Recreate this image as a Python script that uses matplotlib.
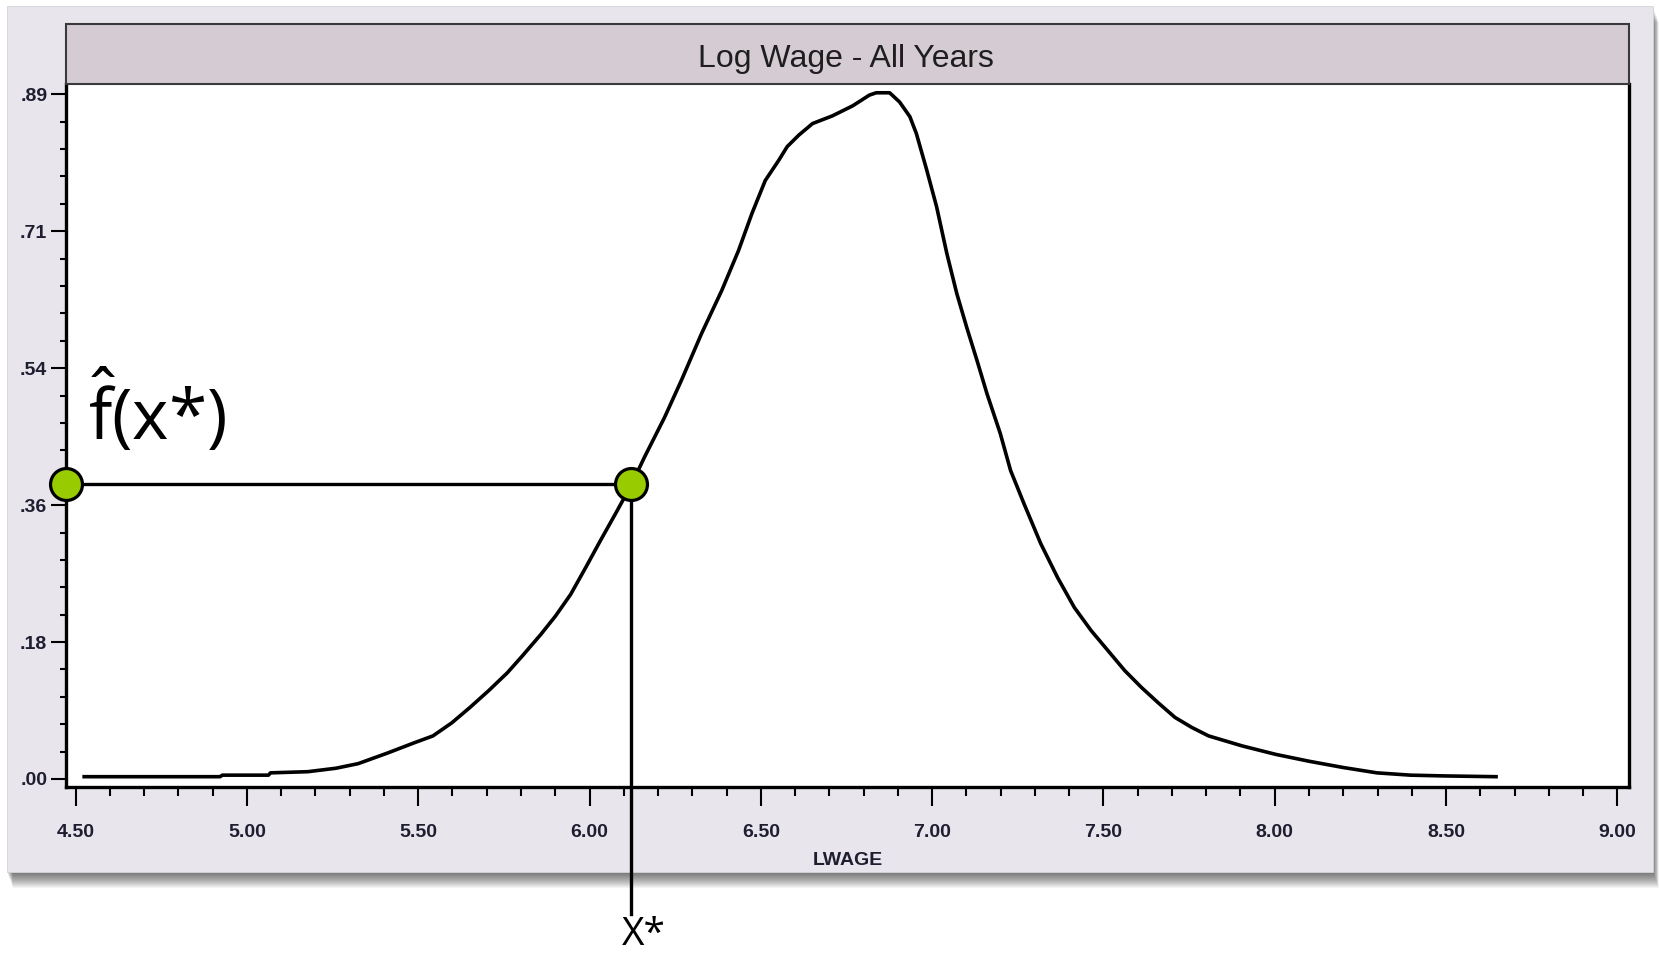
import matplotlib
matplotlib.use('Agg')
import matplotlib.pyplot as plt
from matplotlib.patches import Rectangle
from matplotlib.ticker import MultipleLocator, AutoMinorLocator

plt.rcParams['font.family'] = ['Liberation Sans', 'DejaVu Sans']
plt.rcParams['mathtext.fontset'] = 'custom'
plt.rcParams['mathtext.rm'] = 'Open Sans'
plt.rcParams['mathtext.it'] = 'Open Sans'

# kernel density of log wage
lwage = [4.525, 4.922, 4.928, 5.063, 5.069, 5.178, 5.26, 5.325, 5.412, 5.488,
         5.543, 5.598, 5.651, 5.706, 5.76, 5.804, 5.858, 5.901, 5.945, 5.989,
         6.032, 6.076, 6.097, 6.124, 6.160, 6.219, 6.268, 6.327, 6.386, 6.435,
         6.474, 6.513, 6.552, 6.577, 6.611, 6.651, 6.709, 6.768, 6.817, 6.837,
         6.876, 6.905, 6.935, 6.954, 6.984, 7.013, 7.043, 7.072, 7.101, 7.131,
         7.160, 7.199, 7.229, 7.249, 7.268, 7.317, 7.366, 7.415, 7.464, 7.513,
         7.562, 7.611, 7.660, 7.709, 7.758, 7.807, 7.905, 8.003, 8.101, 8.199,
         8.298, 8.396, 8.494, 8.646]
density = [0.003, 0.003, 0.005, 0.005, 0.008, 0.0095, 0.014, 0.020, 0.034, 0.047,
           0.056, 0.073, 0.093, 0.115, 0.138, 0.160, 0.188, 0.212, 0.240, 0.275,
           0.310, 0.345, 0.362, 0.384, 0.418, 0.470, 0.518, 0.579, 0.635, 0.687,
           0.735, 0.778, 0.804, 0.822, 0.837, 0.852, 0.862, 0.875, 0.889, 0.892,
           0.892, 0.880, 0.861, 0.839, 0.792, 0.744, 0.683, 0.631, 0.587, 0.544,
           0.501, 0.449, 0.401, 0.379, 0.358, 0.306, 0.262, 0.223, 0.193, 0.167,
           0.141, 0.119, 0.099, 0.080, 0.067, 0.056, 0.043, 0.032, 0.023, 0.015,
           0.008, 0.005, 0.004, 0.003]

x_star = 6.122
f_star = 0.384

x_ticks = [4.5, 5.0, 5.5, 6.0, 6.5, 7.0, 7.5, 8.0, 8.5, 9.0]
x_labels = ['4.50', '5.00', '5.50', '6.00', '6.50', '7.00', '7.50', '8.00', '8.50', '9.00']
y_ticks = [0.0, 0.178, 0.356, 0.534, 0.712, 0.89]
y_labels = ['.00', '.18', '.36', '.54', '.71', '.89']

W, H = 1659, 955
fig = plt.figure(figsize=(W / 100, H / 100), dpi=100)
fig.patch.set_facecolor('white')


def fx(p):
    return p / W


def fy(p):
    return 1 - p / H


# drop shadow under the grey panel
for i in range(1, 17):
    fig.patches.append(Rectangle((fx(7 + i * 0.35), fy(872 + i)), fx(1646), 866 / H,
                                 transform=fig.transFigure, facecolor='black',
                                 alpha=0.045, edgecolor='none', zorder=-3))
fig.patches.append(Rectangle((fx(7), fy(872)), fx(1646), 866 / H, transform=fig.transFigure,
                             facecolor='#e8e5ec', edgecolor='#d6d2da', lw=0.6, zorder=-2))
# title bar
fig.patches.append(Rectangle((fx(66), fy(84)), fx(1629 - 66), 60 / H, transform=fig.transFigure,
                             facecolor='#d5cbd3', edgecolor='#3a3a3a', lw=1.5, zorder=1))
fig.text(fx(846), fy(67), 'Log Wage - All Years', ha='center', va='baseline',
         fontsize=23, color='#1e1e1e')

ax = fig.add_axes([fx(66), fy(787), fx(1629 - 66), (787 - 84) / H])
ax.set_facecolor('white')

ax.plot(lwage, density, color='black', lw=2.6, solid_joinstyle='round')

x_left = 4.472
ax.set_xlim(x_left, 9.034)
ax.set_ylim(-0.0104, 0.9034)

line_bottom = -0.176
ax.plot([x_left, x_star], [f_star, f_star], color='black', lw=2.4, clip_on=False)
ax.plot([x_star, x_star], [f_star, line_bottom], color='black', lw=2.4, clip_on=False)
ax.plot([x_left, x_star], [f_star, f_star], 'o', ms=23, mfc='#99cc00', mec='black',
        mew=2.3, clip_on=False, zorder=5)

ax.text(4.535, 0.441, r'$\hat{\mathrm{f}}\mathrm{(x{*})}$', fontsize=50, ha='left', va='baseline')
ax.annotate('X*', xy=(x_star, line_bottom), xytext=(9, -1.5), textcoords='offset points',
            ha='center', va='top', fontsize=28, family='Open Sans', annotation_clip=False)

for side in ['left', 'bottom', 'right']:
    ax.spines[side].set_linewidth(2.4)
ax.spines['top'].set_linewidth(1.2)

lab_color = '#1e1e30'
ax.set_xticks(x_ticks, x_labels, fontweight='bold', color=lab_color)
ax.set_yticks(y_ticks, y_labels, fontweight='bold', color=lab_color)
ax.xaxis.set_minor_locator(MultipleLocator(0.1))
ax.yaxis.set_minor_locator(AutoMinorLocator(5))
ax.tick_params(axis='x', which='major', length=13.7, width=1.5, pad=13, labelsize=14)
ax.tick_params(axis='x', which='minor', length=6.5, width=1.5)
ax.tick_params(axis='y', which='major', length=10.8, width=1.5, pad=2.7, labelsize=14)
ax.tick_params(axis='y', which='minor', length=4.3, width=1.5)

ax.set_xlabel('LWAGE', fontsize=14, fontweight='bold', color=lab_color, labelpad=8)

fig.savefig('out.png', dpi=100)
